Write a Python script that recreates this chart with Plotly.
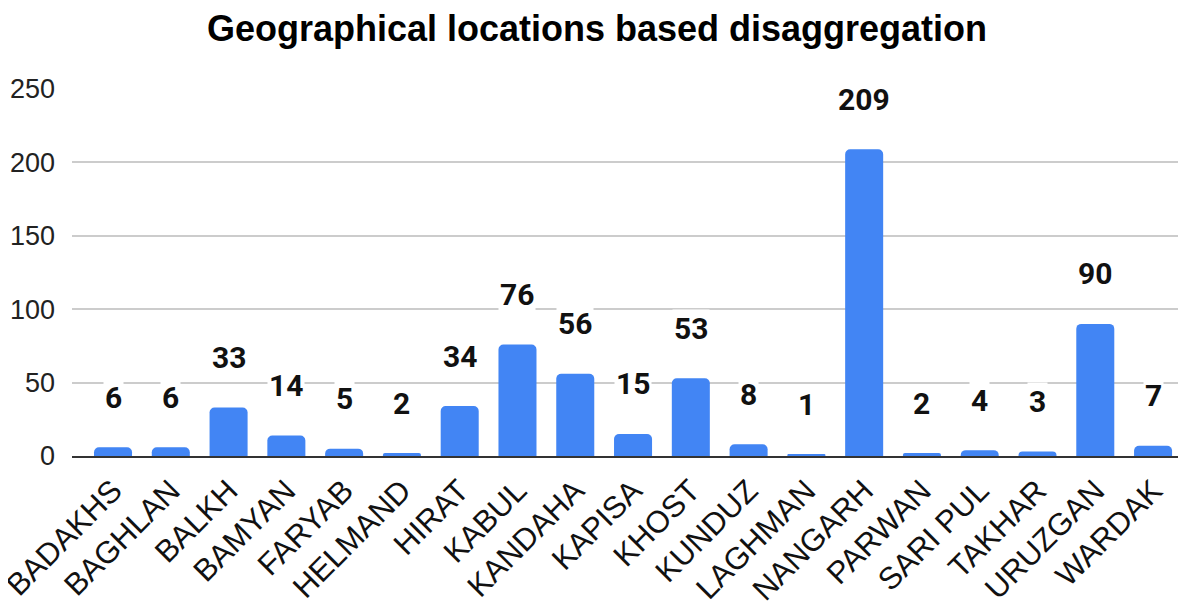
import plotly.graph_objects as go

categories = ["BADAKHS", "BAGHLAN", "BALKH", "BAMYAN", "FARYAB", "HELMAND", "HIRAT",
              "KABUL", "KANDAHA", "KAPISA", "KHOST", "KUNDUZ", "LAGHMAN", "NANGARH",
              "PARWAN", "SARI PUL", "TAKHAR", "URUZGAN", "WARDAK"]
values = [6, 6, 33, 14, 5, 2, 34, 76, 56, 15, 53, 8, 1, 209, 2, 4, 3, 90, 7]
y_ticks = [0, 50, 100, 150, 200, 250]

title_text = "Geographical locations based disaggregation"
bar_color = "#4285F4"
font_family = "Arial, Liberation Sans, sans-serif"

fig = go.Figure()
fig.add_trace(go.Bar(
    x=categories,
    y=values,
    marker=dict(color=bar_color, cornerradius=5, line=dict(width=0)),
    hoverinfo="x+y",
))

for c, v in zip(categories, values):
    fig.add_annotation(
        x=c, y=v, text=str(v), showarrow=False,
        yshift=50, yanchor="middle", xanchor="center",
        font=dict(family="Roboto, Arial, sans-serif", size=30, color="#111111", weight="bold"),
        bgcolor="white",
    )

# page body adds an 8px offset, so the figure is 8px smaller on each axis
fig.update_layout(
    width=1178, height=597,
    paper_bgcolor="white", plot_bgcolor="white",
    margin=dict(l=64, r=0, t=81, b=149, autoexpand=False),
    bargap=0.342,
    showlegend=False,
    title=dict(
        text=title_text, x=0.5, xanchor="center", y=1 - 20 / 597, yref="container", yanchor="middle",
        font=dict(family=font_family, size=36, color="#000000", weight="bold"),
    ),
    font=dict(family=font_family, color="#222222"),
)

fig.update_xaxes(
    type="category",
    range=[-0.71, 18.57],
    tickangle=-45,
    tickfont=dict(family=font_family, size=31, color="#111111"),
    showgrid=False,
    showline=True, linecolor="#333333", linewidth=2,
    ticks="",
    ticklabelstandoff=2,
    automargin=False,
)
fig.update_yaxes(
    range=[0, 250],
    tickvals=y_ticks,
    tickfont=dict(family=font_family, size=27, color="#222222"),
    showgrid=True, gridcolor="#cccccc", gridwidth=1.5,
    zeroline=False,
    showline=False,
    ticks="",
    ticklabelstandoff=16,
    automargin=False,
)

fig.write_html("out.html")
